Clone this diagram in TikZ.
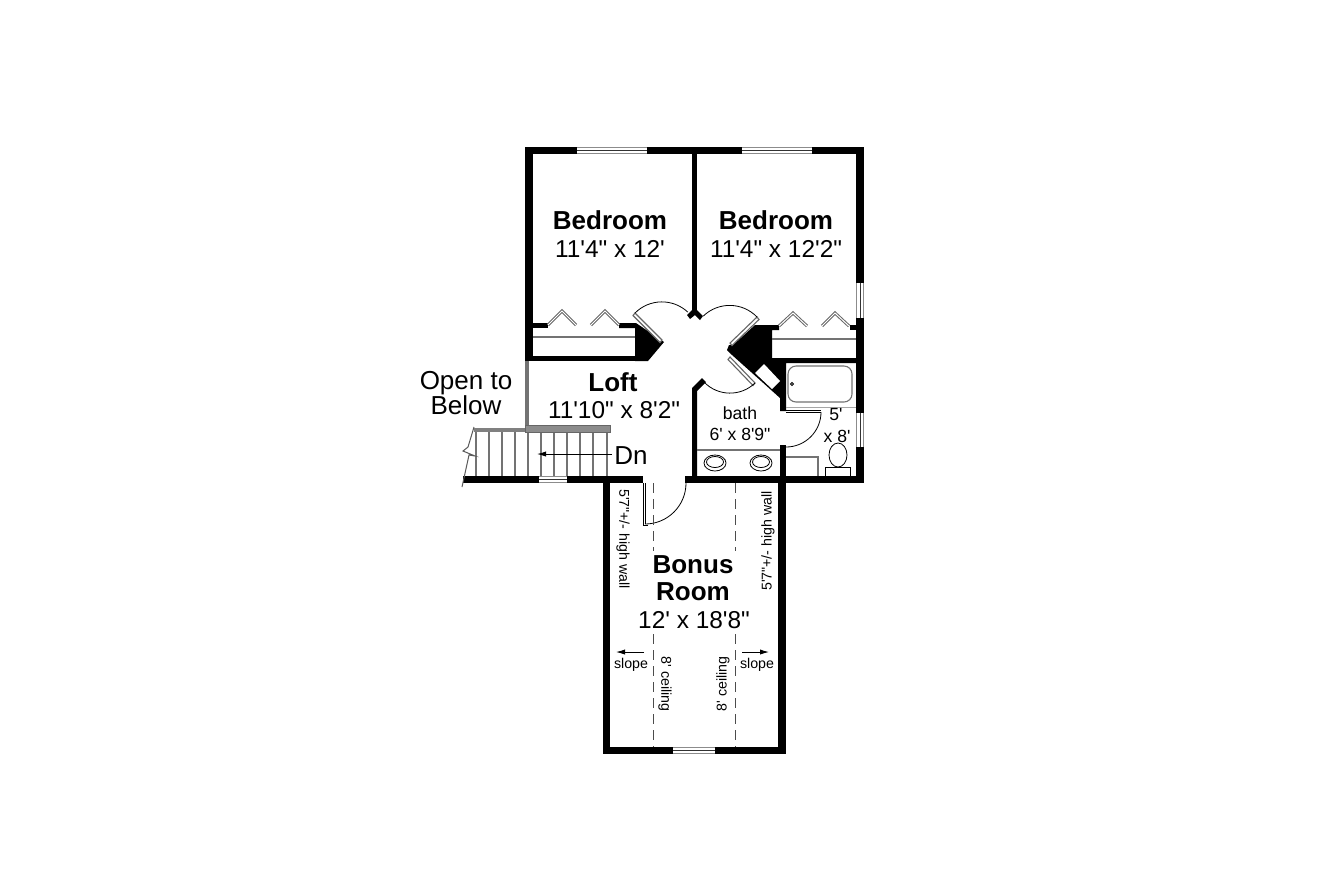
\documentclass[tikz,border=0pt]{standalone}
\usepackage{fontspec}
\setmainfont{Liberation Sans}[Ligatures=TeXOff]
\newcommand{\fsz}[1]{\fontsize{#1}{#1}\selectfont}
\usetikzlibrary{arrows.meta}
\tikzset{
  wall/.style={fill=black,draw=none},
  glass/.style={draw=black!45,line width=0.8pt},
  midl/.style={draw=black!80,line width=0.35pt},
  fine/.style={draw=black,line width=0.4pt},
  greyl/.style={draw=black!55,line width=0.55pt},
  folddoor/.style={draw=black!60,line width=1.5pt,line join=miter},
  foldin/.style={draw=white,line width=0.5pt},
  paneb/.style={fill=white,draw=black!60,line width=0.55pt},
  big/.style={font=\fsz{13}\bfseries,inner sep=0pt,align=center},
  reg/.style={font=\fsz{13},inner sep=0pt,align=center},
  dims/.style={font=\fsz{12.2},inner sep=0pt,align=center},
  small/.style={font=\fsz{8.8},inner sep=0pt,align=center},
  tiny/.style={font=\fsz{7.1},inner sep=0pt,align=center},
  dashl/.style={draw=black!70,line width=0.5pt,dash pattern=on 5pt off 3pt},
  arrowl/.style={draw=black,line width=0.45pt,-{Latex[length=4.5pt,width=2.6pt]}}
}
\begin{document}
\begin{tikzpicture}[x=0.5pt,y=-0.5pt]
\useasboundingbox (0,0) rectangle (1320,880);
\fill[white] (0,0) rectangle (1320,880);

% main walls
\fill[wall] (525,147) rectangle (864,154);
\fill[wall] (525,147) rectangle (533,361);
\fill[wall] (856,147) rectangle (864,483);
\fill[wall] (692,154) rectangle (697,312);
\fill[wall] (692,310)--(697,310)--(703,316)--(700,320)--(695,315)--(690,319)--(687,315)--cycle;
\fill[wall] (692,478)--(692,388)--(702,378)--(706,382)--(697,391)--(697,478)--cycle;
\fill[wall] (692,476) rectangle (864,483);
\fill[wall] (463,476) rectangle (643,483);
\fill[wall] (685,476) rectangle (692,483);
\fill[wall] (603,476) rectangle (610,754);
\fill[wall] (778,476) rectangle (786,754);
\fill[wall] (603,747) rectangle (786,754);

% left closet
\fill[wall] (533,323) rectangle (548,328);
\fill[wall] (533,356) rectangle (640,361);
\fill[wall] (619,323)--(636,323)--(664,342)--(648,361)--(635,361)--(635,328)--(619,328)--cycle;
\draw[greyl] (533,337)--(635,337);
\foreach \a/\b/\c in {548/562/576,591/605/619}{
  \draw[folddoor] (\a,325)--(\b,311)--(\c,325);
  \draw[foldin] (\a,325)--(\b,311)--(\c,325);
}

% right closet and black mass
\fill[wall] (755,325)--(779,325)--(779,330)--(772,330)--(772,358)--(856,358)--(856,363)--(786,363)--(786,411)--(780,411)--(780,398)--(732,355)--(727,350)--(729,345)--(733,345)--cycle;
\fill[wall] (850,325) rectangle (856,330);
\fill[white] (755,373)--(764,364)--(780,381)--(772,389)--cycle;
\draw[greyl] (772,339)--(856,339);
\foreach \a/\b/\c in {779/793/807,822/835/849}{
  \draw[folddoor] (\a,326)--(\b,313)--(\c,326);
  \draw[foldin] (\a,326)--(\b,313)--(\c,326);
}

% door panes and swings
\draw[paneb] (635,313)--(662,340)--(660,342.5)--(633,315.5)--cycle;
\draw[paneb] (757,317)--(730,343)--(732,345.5)--(759,319.5)--cycle;
\draw[paneb] (730,357)--(755,383)--(753,385.5)--(728,359.5)--cycle;
\draw[fine] (635,313) arc[start angle=225,end angle=313,radius=38];
\draw[fine] (757,317) arc[start angle=316,end angle=226,radius=38];
\draw[fine] (755,383) arc[start angle=46,end angle=136,radius=36];

% windows
\foreach \a/\b/\p/\q in {577/647/147/154,742/812/147/154,539/567/476/483,673/715/747/754}{
  \fill[white] (\a,\p) rectangle (\b,\q);
  \draw[glass] (\a,\p+0.5)--(\b,\p+0.5) (\a,\q-0.5)--(\b,\q-0.5);
  \draw[midl] (\a,{(\p+\q)/2}) -- (\b,{(\p+\q)/2});
}
\foreach \p/\q/\a/\b in {283/318/856/864,413/447/856/864}{
  \fill[white] (\a,\p) rectangle (\b,\q);
  \draw[glass] (\a+0.5,\p)--(\a+0.5,\q) (\b-0.5,\p)--(\b-0.5,\q);
  \draw[midl] (860,\p) -- (860,\q);
}

% bath fixtures
\draw[greyl,rounded corners=4pt] (788,366) rectangle (852,402);
\draw[draw=black!35,line width=0.4pt] (786,407)--(856,407);
\draw[fine] (792,384) circle[radius=1.5];
\draw[fine] (786,410.5)--(821,410.5) (786,412.5)--(821,412.5);
\draw[fine] (821,412) arc[start angle=0,end angle=90,radius=35];
\fill[wall] (780,445) rectangle (786,477);
\draw[greyl] (697,450)--(780,450);
\foreach \c in {715,761}{
  \draw[fine] (\c,463) ellipse[x radius=11,y radius=8];
  \draw[fine] (\c,462) ellipse[x radius=8.5,y radius=5.5];
}
\draw[greyl] (786,457)--(818,457)--(818,476);
\draw[fine] (825,476)--(825,467)--(850,467)--(850,476);
\draw[fine] (838,455) ellipse[x radius=9,y radius=12];

% stairs and rail
\foreach \x in {476,489,502,515,528,541,554,567,580,593,607}{
  \draw[greyl] (\x,432)--(\x,476);
}
\draw[draw=black!65,line width=0.5pt] (474,427)--(468,447)--(463,451)--(475,456)--(469,455)--(462,487);
\fill[black!55] (525,361) rectangle (529,426);
\fill[black!50] (474,428) rectangle (526,432);
\draw[fill=black!45,draw=black!60,line width=0.4pt] (525,425) rectangle (610,432);
\draw[arrowl] (612,454)--(537,454);

% bonus door
\draw[fine] (643,483)--(643,525)--(648,525);
\draw[fine] (645,483)--(645,524);
\draw[fine] (645,524) arc[start angle=90,end angle=0,radius=41];

% ceiling lines
\draw[dashl] (653,483)--(653,551);
\draw[dashl] (653,634)--(653,747);
\draw[dashl] (735,483)--(735,551);
\draw[dashl] (735,634)--(735,747);

% labels
\node[big] (bedroomA) at (610,220) {Bedroom};
\node[dims] (bedroomAsize) at (610,249) {11'4" x 12'};
\node[big] (bedroomB) at (776,220) {Bedroom};
\node[dims] (bedroomBsize) at (776,249) {11'4" x 12'2"};
\node[big] (loft) at (613,382) {Loft};
\node[dims] (loftsize) at (614,410) {11'10" x 8'2"};
\node[reg] (open) at (466,383) {Open to};
\node[reg] (below) at (466,405) {Below};
\node[reg] (dn) at (631,456) {Dn};
\node[small] (bath) at (740,413) {bath};
\node[small] (bathsize) at (740,434) {6' x 8'9"};
\node[small] (wcA) at (836,415) {5'};
\node[small] (wcB) at (837,436) {x 8'};
\node[big] (bonusA) at (693,565) {Bonus};
\node[big] (bonusB) at (693,592) {Room};
\node[dims] (bonussize) at (694,620) {12' x 18'8"};
\node[tiny,rotate=-90] (wallA) at (623,539) {5'7"+/- high wall};
\node[tiny,rotate=90] (wallB) at (768,541) {5'7"+/- high wall};
\node[tiny] (slopeA) at (631,665) {slope};
\node[tiny] (slopeB) at (757,665) {slope};
\node[tiny,rotate=-90] (ceilA) at (665,684) {8' ceiling};
\node[tiny,rotate=90] (ceilB) at (723,684) {8' ceiling};
\coordinate (aAs) at (644,652); \coordinate (aAe) at (616,652);
\coordinate (aBs) at (742,652); \coordinate (aBe) at (769,652);
\draw[arrowl] (aAs)--(aAe);
\draw[arrowl] (aBs)--(aBe);
\end{tikzpicture}
\end{document}
